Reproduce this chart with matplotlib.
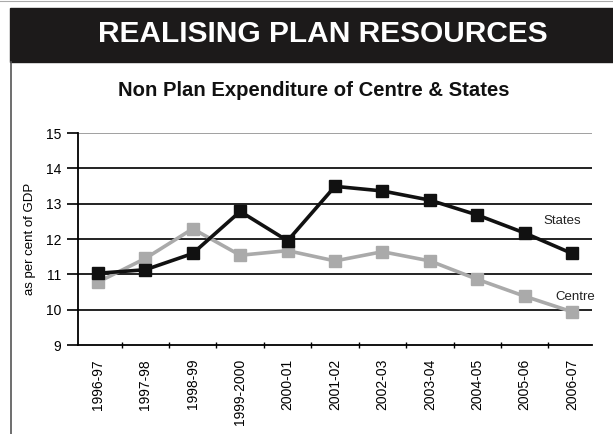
#!/usr/bin/env python3
"""Non plan expenditure of Centre and States, as per cent of GDP."""

import matplotlib

matplotlib.use("Agg")
import matplotlib.pyplot as plt
from matplotlib.lines import Line2D
from matplotlib.patches import Rectangle

plt.rcParams["font.family"] = ["Liberation Sans", "DejaVu Sans"]

years = [
    "1996-97", "1997-98", "1998-99", "1999-2000", "2000-01", "2001-02",
    "2002-03", "2003-04", "2004-05", "2005-06", "2006-07",
]
states = [11.03, 11.13, 11.59, 12.78, 11.95, 13.49, 13.36, 13.10, 12.68, 12.17, 11.59]
centre = [10.78, 11.45, 12.29, 11.54, 11.67, 11.38, 11.64, 11.38, 10.86, 10.38, 9.94]
y_ticks = [9, 10, 11, 12, 13, 14, 15]

W, H = 613, 434
fig = plt.figure(figsize=(W / 100, H / 100), dpi=100)

# header band
fig.add_artist(Rectangle((10 / W, 1 - 62 / H), 1 - 10 / W, 54 / H,
                         transform=fig.transFigure, color="#1c1a1a", zorder=0))
fig.text(323 / W, 1 - 34 / H, "REALISING PLAN RESOURCES", color="white",
         fontsize=21.5, fontweight="bold", ha="center", va="center")
fig.add_artist(Line2D([11 / W, 11 / W], [0, 1 - 62 / H], transform=fig.transFigure,
                      color="#555555", linewidth=1.2))
fig.add_artist(Line2D([0, 1], [1 - 1 / H, 1 - 1 / H], transform=fig.transFigure,
                      color="#aaaaaa", linewidth=0.8))
fig.text(314 / W, 1 - 90 / H, "Non Plan Expenditure of Centre & States",
         fontsize=14.6, fontweight="bold", ha="center", va="center", color="#111111")

ax = fig.add_axes([78 / W, 1 - 345 / H, 514 / W, 212 / H])
xs = list(range(len(years)))

for y in y_ticks[1:]:
    ax.axhline(y, color="#999999" if y == 15 else "#111111", linewidth=1.3, zorder=1)

ax.plot(xs, centre, color="#aaaaaa", linewidth=2.6, marker="s", markersize=8, zorder=2)
ax.plot(xs, states, color="#111111", linewidth=2.6, marker="s", markersize=8, zorder=3)

ax.text(9.39, 12.5, "States", fontsize=9.5, va="center", ha="left", color="#222222")
ax.text(9.64, 10.35, "Centre", fontsize=9.5, va="center", ha="left", color="#222222")

ax.set_xlim(-0.42, 10.42)
ax.set_ylim(9, 15)
ax.set_yticks(y_ticks)
ax.set_yticklabels([str(v) for v in y_ticks], fontsize=10)
ax.tick_params(axis="y", length=8, width=1.3, color="#111111", pad=4)
ax.set_xticks([i + 0.5 for i in xs[:-1]])
ax.set_xticklabels([])
ax.set_xticks(xs, minor=True)
ax.set_xticklabels(years, minor=True, rotation=90, fontsize=10)
ax.tick_params(axis="x", which="major", direction="inout", length=5, width=1)
ax.tick_params(axis="x", which="minor", length=0, pad=10)
for side in ("top", "right"):
    ax.spines[side].set_visible(False)
ax.spines["left"].set_linewidth(1.3)
ax.spines["bottom"].set_linewidth(1.3)
ax.set_ylabel("as per cent of GDP", fontsize=9.5, labelpad=7)
ax.patch.set_alpha(0)

fig.savefig("out.png", dpi=100)
